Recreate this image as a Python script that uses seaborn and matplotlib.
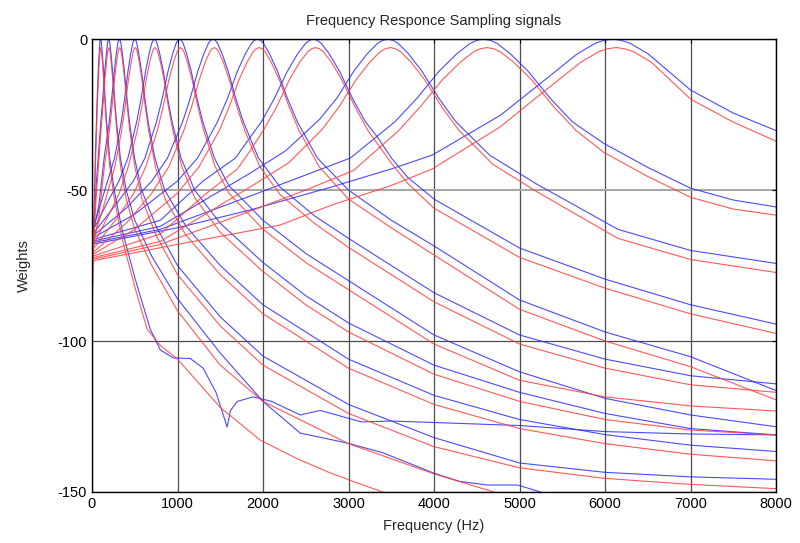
import pandas as pd
import seaborn as sns
import matplotlib
matplotlib.use('Agg')
import matplotlib.pyplot as plt

# filterbank responses: (frequency Hz, weight dB) per channel
blue_curves = [
    [(0, -90), (20, -62), (40, -38), (60, -20), (75, -9), (88, -2.5), (95, -0.4), (100, 0), (105, -0.4), (110, -1.4), (121, -4.8), (135, -10.6),
     (153, -19.6), (171, -27.4), (207, -39.4), (260, -50), (350, -63), (500, -79), (680, -96), (800, -103), (950, -105.6),
     (1150, -105.8), (1300, -109), (1450, -117), (1530, -124), (1580, -128.5), (1620, -123), (1700, -120), (1885, -118.5),
     (2100, -120), (2435, -124.5), (2670, -123), (3150, -126.8), (3500, -126.5), (4000, -127), (5000, -128), (6000, -130),
     (7000, -130.8), (8000, -131.1)],
    [(0, -72), (50, -48), (103, -27.4), (126, -19.6), (149, -10.6), (168, -4.8), (181, -1.4), (188, -0.4), (195, 0), (202, -0.4), (209, -1.4),
     (222, -4.8), (241, -10.6), (264, -19.6), (287, -27.4), (332, -39.4), (400, -50), (500, -60), (700, -72), (1000, -86),
     (1500, -104), (2000, -120), (2435, -130.5), (2986, -133.8), (3400, -137), (3993, -143.7), (4300, -146.5),
     (4625, -147.7), (4977, -147.7), (5245, -150), (5400, -153)],
    [(0, -66), (80, -55), (142, -39.4), (202, -27.4), (231, -19.6), (261, -10.6), (284, -4.8), (302, -1.4), (311, -0.4), (320, 0),
     (329, -0.4), (338, -1.4), (356, -4.8), (379, -10.6), (409, -19.6), (438, -27.4), (498, -39.4), (580, -50), (750, -62), (1000, -75),
     (1500, -92), (2000, -105), (3000, -121), (4000, -132), (5000, -140.4), (6000, -143.5), (7000, -145), (8000, -145.8)],
    [(0, -64), (150, -50), (264, -39.4), (343, -27.4), (382, -19.6), (421, -10.6), (453, -4.8), (476, -1.4), (488, -0.4), (500, 0),
     (512, -0.4), (524, -1.4), (547, -4.8), (579, -10.6), (618, -19.6), (657, -27.4), (736, -39.4), (850, -50), (1100, -62), (1500, -75),
     (2000, -88), (3000, -106), (4000, -118), (5000, -126), (6000, -131), (7000, -134.5), (8000, -136.6)],
    [(0, -64), (200, -53), (316, -47), (420, -39.4), (523, -27.4), (575, -19.6), (627, -10.6), (668, -4.8), (699, -1.4), (715, -0.4),
     (730, 0), (745, -0.4), (761, -1.4), (792, -4.8), (834, -10.6), (885, -19.6), (937, -27.4), (1041, -39.4), (1200, -50), (1500, -61),
     (2000, -74), (2500, -85), (3000, -94), (4000, -108), (5000, -117), (6000, -124), (7000, -129), (8000, -131.1)],
    [(0, -65), (300, -54), (484, -47), (619, -39.4), (754, -27.4), (822, -19.6), (890, -10.6), (944, -4.8), (984, -1.4), (1005, -0.4),
     (1025, 0), (1045, -0.4), (1066, -1.4), (1106, -4.8), (1160, -10.6), (1228, -19.6), (1296, -27.4), (1431, -39.4), (1600, -48.5),
     (2000, -60), (2500, -71), (3000, -80), (4000, -98), (5000, -110.2), (6000, -119), (7000, -124.5), (8000, -128.4)],
    [(0, -65.5), (400, -56), (700, -47), (883, -39.4), (1060, -27.4), (1149, -19.6), (1238, -10.6), (1309, -4.8),
     (1362, -1.4), (1389, -0.4), (1415, 0), (1441, -0.4), (1468, -1.4), (1521, -4.8), (1592, -10.6), (1681, -19.6), (1770, -27.4), (1947, -39.4),
     (2200, -49), (2600, -58.5), (3000, -66), (4000, -84), (5000, -98), (6000, -106), (7000, -111.5), (8000, -114.2)],
    [(0, -66), (500, -58), (1000, -47), (1234, -39.4), (1468, -27.4), (1585, -19.6), (1701, -10.6), (1795, -4.8),
     (1865, -1.4), (1900, -0.4), (1935, 0), (1970, -0.4), (2005, -1.4), (2075, -4.8), (2169, -10.6), (2285, -19.6), (2402, -27.4), (2636, -39.4),
     (3000, -50), (3500, -60), (4000, -68.5), (5000, -86.4), (6000, -97), (7000, -105.2), (8000, -116.4)],
    [(0, -66.5), (800, -60), (1300, -47), (1678, -39.4), (1850, -32.5), (1982, -27.4), (2134, -19.6), (2286, -10.6),
     (2407, -4.8), (2499, -1.4), (2545, -0.4), (2590, 0), (2635, -0.4), (2681, -1.4), (2773, -4.8), (2894, -10.6), (3046, -19.6), (3198, -27.4),
     (3337, -32.4), (3502, -39.4), (3689, -45.7), (4000, -53), (5000, -69.2), (6000, -79.5), (7000, -88), (8000, -94.4)],
    [(0, -67), (800, -62), (1850, -44.4), (2265, -37), (2664, -26.5), (2863, -19.6), (3062, -10.6), (3221, -4.8),
     (3341, -1.4), (3400, -0.4), (3460, 0), (3520, -0.4), (3579, -1.4), (3699, -4.8), (3858, -10.6), (4057, -19.6), (4256, -27.4), (4654, -38.5),
     (5200, -48), (6150, -63), (7000, -70), (8000, -74.3)],
    [(0, -67.5), (800, -63), (1850, -52), (2500, -45), (3022, -39.4), (3542, -27.4), (3801, -19.6), (4061, -10.6),
     (4269, -4.8), (4424, -1.4), (4502, -0.4), (4580, 0), (4658, -0.4), (4736, -1.4), (4891, -4.8), (5099, -10.6), (5359, -19.6), (5618, -27.4),
     (5984, -34.5), (6500, -42.5), (7002, -49.4), (7500, -53.3), (8000, -55.6)],
    [(0, -68), (1000, -62.5), (1850, -56.6), (2800, -49), (3500, -43), (3981, -38.4), (4778, -25.2), (5222, -15.2),
     (5680, -4.8), (5885, -1.4), (5990, -0.4), (6090, 0), (6190, -0.4), (6295, -1.4), (6500, -4.8), (7002, -16.9), (7500, -24.5), (8000, -30.3)],
]

red_curves = [
    [(0, -93), (20, -66), (40, -42), (60, -24), (80, -10), (92, -4.8), (101, -2.8), (111, -4.2), (122, -7.6),
     (136, -13.4), (154, -22.4), (172, -30.2), (208, -42.2), (262, -53), (350, -66), (500, -82), (644, -96),
     (800, -101.5), (1000, -106), (1500, -122), (1967, -132.8), (2400, -139), (2787, -143.7), (3100, -147),
     (3400, -150), (3600, -152)],
    [(0, -76), (50, -52), (105, -30.2), (128, -22.4), (151, -13.4), (170, -7.6), (183, -4.2), (190, -3.2), (197, -2.8), (204, -3.2), (211, -4.2),
     (224, -7.6), (243, -13.4), (266, -22.4), (289, -30.2), (334, -42.2), (400, -53), (500, -63), (700, -75), (1000, -90),
     (1500, -108), (2000, -120), (3000, -134), (4000, -144), (4700, -150), (4900, -152)],
    [(0, -70), (80, -59), (145, -42.2), (205, -30.2), (234, -22.4), (264, -13.4), (287, -7.6), (305, -4.2), (314, -3.2), (323, -2.8),
     (332, -3.2), (341, -4.2), (359, -7.6), (382, -13.4), (412, -22.4), (441, -30.2), (501, -42.2), (585, -53), (750, -65), (1000, -78),
     (1500, -95), (2000, -108), (3000, -124), (4000, -135), (5000, -142), (6000, -145.5), (7000, -147.5), (8000, -148.9)],
    [(0, -68), (150, -54), (268, -42.2), (347, -30.2), (387, -22.4), (426, -13.4), (458, -7.6), (481, -4.2), (493, -3.2), (505, -2.8),
     (517, -3.2), (529, -4.2), (552, -7.6), (584, -13.4), (623, -22.4), (662, -30.2), (741, -42.2), (855, -53), (1100, -65),
     (1500, -78), (2000, -91), (3000, -109), (4000, -121), (5000, -129), (6000, -134), (7000, -137.5), (8000, -139.7)],
    [(0, -69), (200, -58), (320, -51), (425, -42.2), (530, -30.2), (582, -22.4), (634, -13.4), (675, -7.6), (706, -4.2), (722, -3.2),
     (737, -2.8), (752, -3.2), (768, -4.2), (800, -7.6), (842, -13.4), (893, -22.4), (945, -30.2), (1050, -42.2), (1200, -52.5),
     (1500, -64), (2000, -77), (2500, -88), (3000, -97), (4000, -111), (5000, -120), (6000, -126), (7000, -129.5),
     (8000, -131.1)],
    [(0, -70), (300, -59), (490, -51), (630, -42.2), (765, -30.2), (832, -22.4), (900, -13.4), (955, -7.6), (995, -4.2), (1015, -3.2),
     (1035, -2.8), (1055, -3.2), (1075, -4.2), (1115, -7.6), (1170, -13.4), (1238, -22.4), (1306, -30.2), (1440, -42.2), (1600, -51),
     (2000, -63), (2500, -74), (3000, -83), (4000, -101), (5000, -113), (6000, -118.5), (7000, -121.5), (8000, -123.2)],
    [(0, -71), (400, -61), (700, -51), (900, -42.2), (1075, -30.2), (1165, -22.4), (1255, -13.4), (1325, -7.6),
     (1378, -4.2), (1404, -3.2), (1430, -2.8), (1456, -3.2), (1482, -4.2), (1535, -7.6), (1605, -13.4), (1695, -22.4), (1785, -30.2), (1962, -42.2),
     (2200, -51.5), (2600, -61), (3000, -69), (4000, -87), (5000, -101), (6000, -109), (7000, -114.5), (8000, -117)],
    [(0, -71.5), (500, -63), (1000, -51), (1255, -42.2), (1490, -30.2), (1605, -22.4), (1720, -13.4), (1815, -7.6),
     (1885, -4.2), (1920, -3.2), (1955, -2.8), (1990, -3.2), (2025, -4.2), (2095, -7.6), (2190, -13.4), (2305, -22.4), (2420, -30.2), (2655, -42.2),
     (3000, -53), (3500, -62.5), (4000, -71.5), (5000, -89.5), (6000, -100), (7000, -108.5), (8000, -119.5)],
    [(0, -72), (800, -64.5), (1300, -52), (1700, -43), (1850, -37), (2005, -30.2), (2160, -22.4), (2310, -13.4),
     (2430, -7.6), (2525, -4.2), (2570, -3.2), (2615, -2.8), (2660, -3.2), (2705, -4.2), (2800, -7.6), (2920, -13.4), (3075, -22.4), (3225, -30.2),
     (3530, -42.2), (3700, -48), (4000, -56), (5000, -72.3), (6000, -82.5), (7000, -91), (8000, -97.5)],
    [(0, -72.5), (800, -67), (1850, -49), (2300, -41), (2690, -30), (2890, -22.4), (3090, -13.4), (3250, -7.6),
     (3370, -4.2), (3430, -3.2), (3490, -2.8), (3550, -3.2), (3610, -4.2), (3730, -7.6), (3890, -13.4), (4090, -22.4), (4290, -30.2), (4690, -41.5),
     (5200, -50.5), (6150, -66), (7000, -73), (8000, -77.3)],
    [(0, -73), (800, -68), (1850, -57), (2500, -50), (3060, -43.5), (3580, -30.5), (3840, -22.4), (4100, -13.4),
     (4310, -7.6), (4465, -4.2), (4542, -3.2), (4620, -2.8), (4698, -3.2), (4775, -4.2), (4930, -7.6), (5140, -13.4), (5400, -22.4), (5660, -30.2),
     (5984, -37.5), (6500, -45.5), (7002, -52.4), (7500, -56.3), (8000, -58.3)],
    [(0, -73.5), (1000, -68), (2200, -61.6), (2800, -55), (3500, -48.5), (3981, -43), (4778, -29), (5222, -18.8),
     (5720, -7.6), (5925, -4.2), (6030, -3.2), (6130, -2.8), (6230, -3.2), (6335, -4.2), (6540, -7.6), (7002, -19.9), (7500, -27.5), (8000, -33.8)],
]

x_ticks = [0, 1000, 2000, 3000, 4000, 5000, 6000, 7000, 8000]
y_ticks = [-150, -100, -50, 0]

rows = []
for kind, curves in (('blue', blue_curves), ('red', red_curves)):
    for i, pts in enumerate(curves):
        for hz, db in pts:
            rows.append({'freq': hz, 'db': db, 'kind': kind, 'curve': f'{kind}{i}'})
df = pd.DataFrame(rows)

sns.set_style('white')
plt.rcParams['font.family'] = ['Liberation Sans', 'DejaVu Sans']
plt.rcParams['axes.unicode_minus'] = False

fig = plt.figure(figsize=(8, 5.43), dpi=100)
ax = fig.add_axes([0.115, 0.094, 0.855, 0.834])

sns.lineplot(data=df, x='freq', y='db', hue='kind', units='curve', estimator=None, sort=False,
             palette={'blue': '#2b2bff', 'red': '#ff3b3b'}, legend=False, lw=0.8, alpha=0.85, ax=ax)

ax.set_xlim(0, 8000)
ax.set_ylim(-150, 0)
ax.set_xticks(x_ticks)
ax.set_yticks(y_ticks)
ax.xaxis.grid(True, color='0.3', lw=0.9)
ax.yaxis.grid(True, color='0.3', lw=0.9)
ax.get_ygridlines()[2].set_color('0.65')
ax.get_ygridlines()[2].set_linewidth(1.4)
ax.set_axisbelow(True)
for s in ax.spines.values():
    s.set_color('black')
    s.set_linewidth(1.0)
ax.tick_params(direction='in', top=True, right=True, length=3, labelsize=10.5, colors='black')
ax.set_xlabel('Frequency (Hz)', fontsize=10.5, labelpad=6)
ax.set_ylabel('Weights', fontsize=10.5)
ax.yaxis.set_label_coords(-0.09, 0.5)
ax.set_title('Frequency Responce Sampling signals', fontsize=10.5, pad=10)

fig.savefig('out.png', dpi=100)
